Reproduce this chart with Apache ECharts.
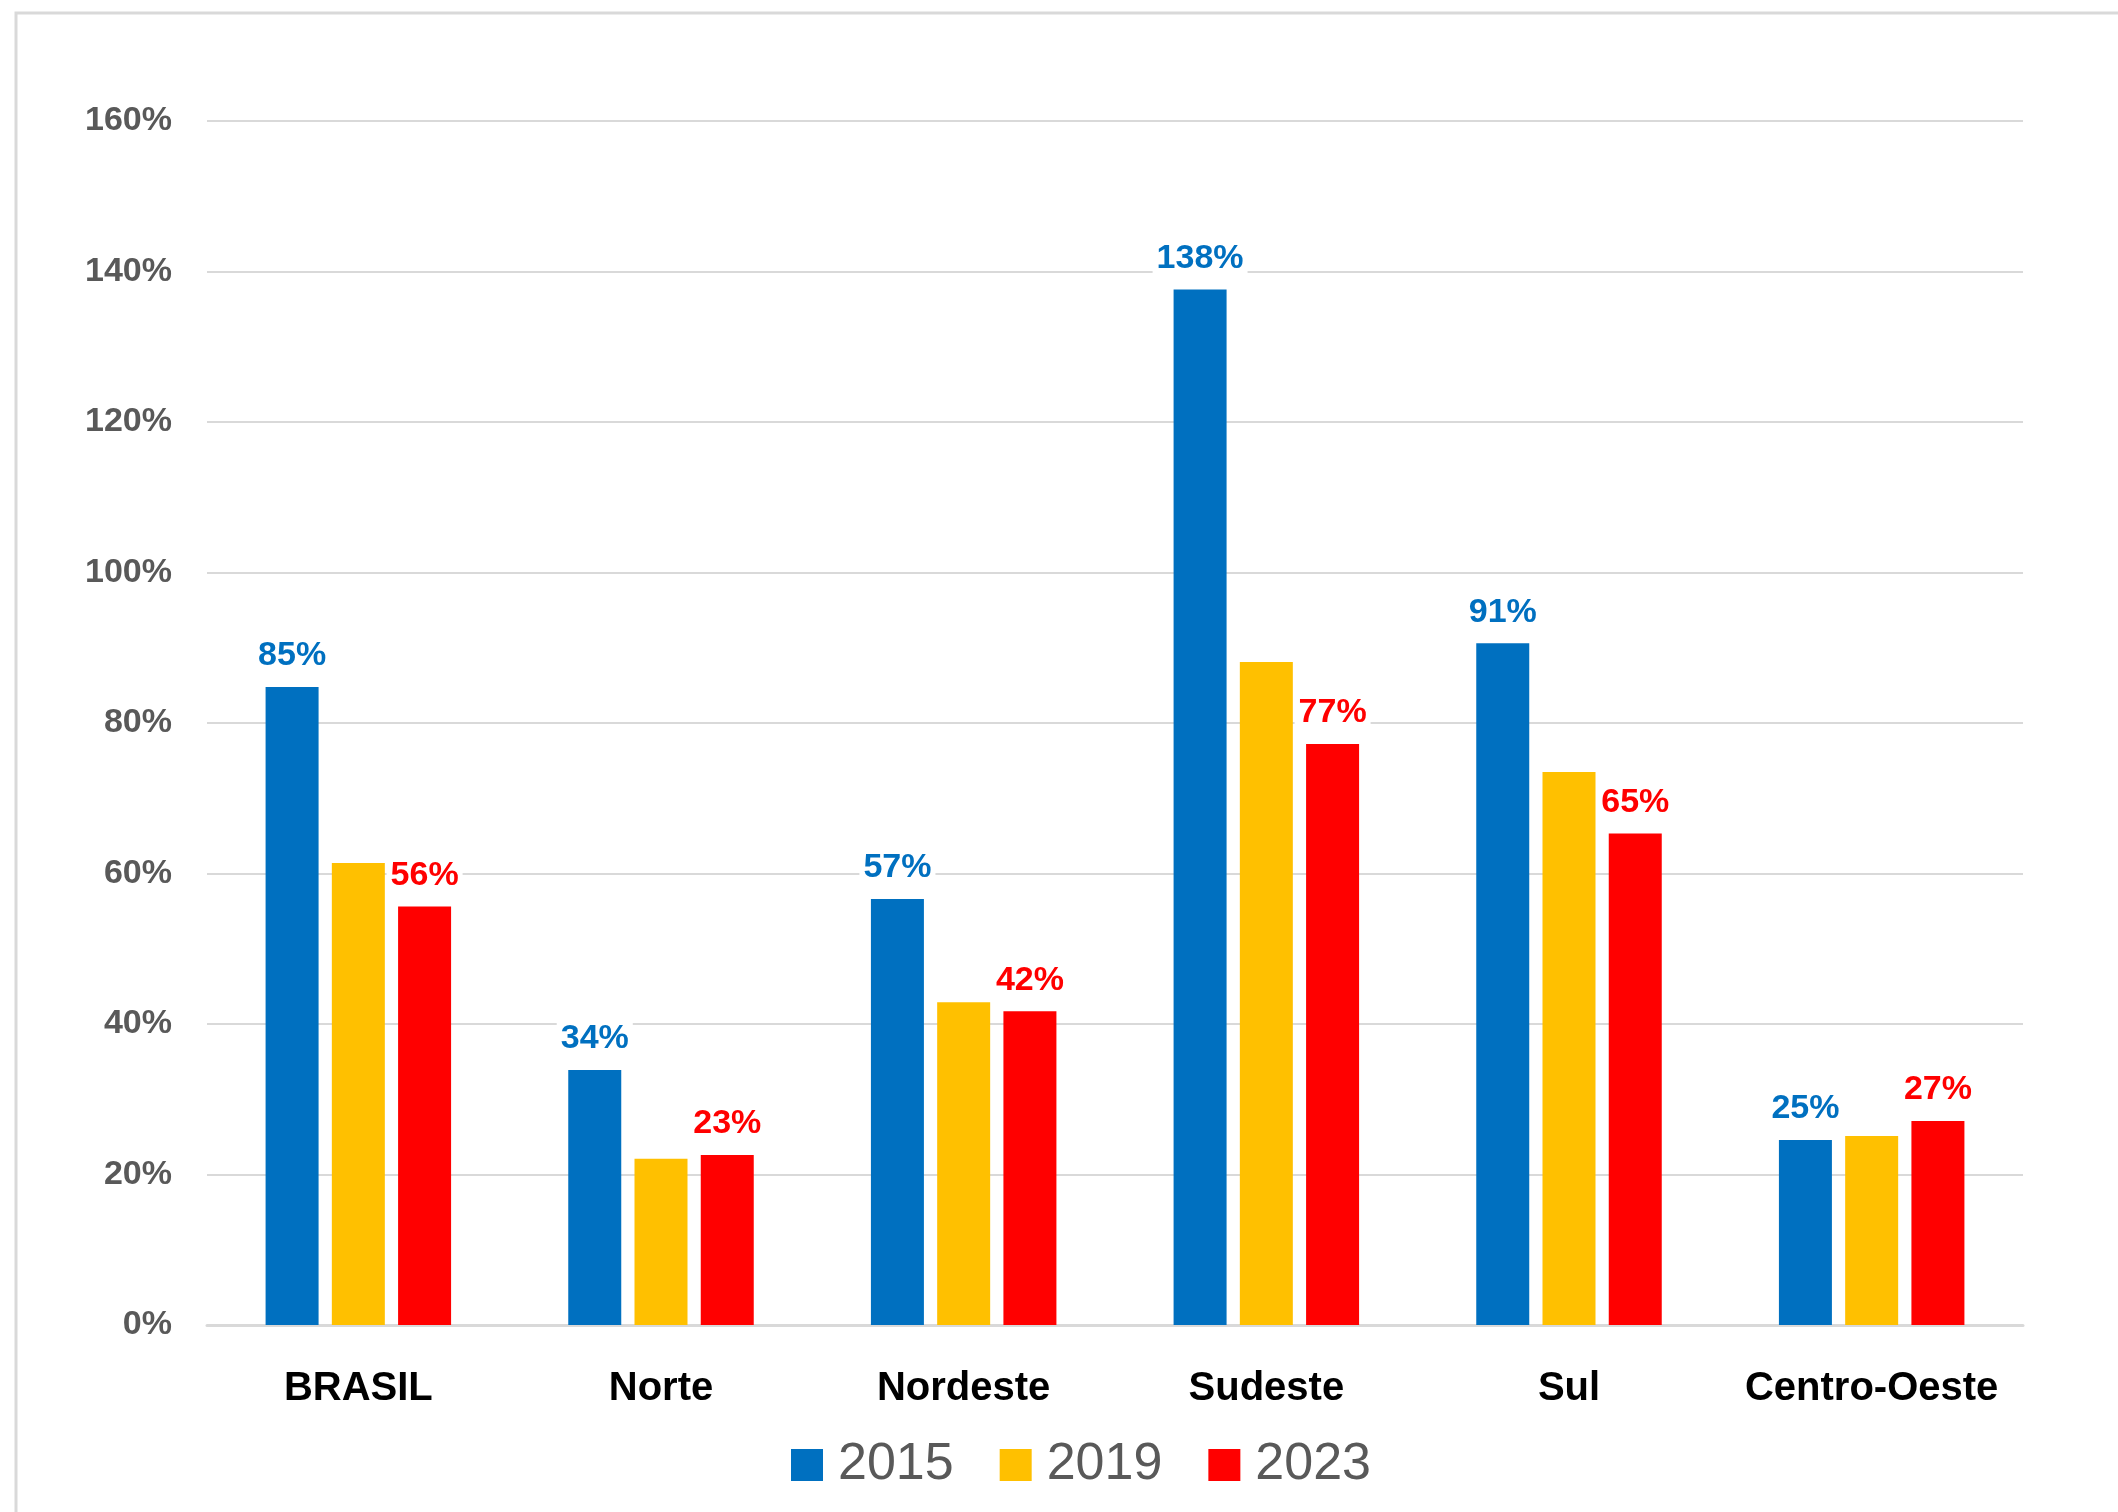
<!DOCTYPE html>
<html>
<head>
<meta charset="utf-8">
<script src="https://cdn.jsdelivr.net/npm/echarts@6/dist/echarts.min.js"></script>
<style>
html,body{margin:0;padding:0;background:#fff;}
#chart{width:2118px;height:1512px;}
</style>
</head>
<body>
<div id="chart"></div>
<script>
const categories = ['BRASIL', 'Norte', 'Nordeste', 'Sudeste', 'Sul', 'Centro-Oeste'];
const years = ['2015', '2019', '2023'];
const values2015 = [84.8, 33.9, 56.6, 137.6, 90.6, 24.6];
const values2019 = [61.4, 22.1, 42.9, 88.1, 73.5, 25.1];
const values2023 = [55.6, 22.6, 41.7, 77.2, 65.3, 27.1];
const yTicks = [0, 20, 40, 60, 80, 100, 120, 140, 160];

const colors = ['#0070C0', '#FFC000', '#FF0000'];
const FONT = 'Liberation Sans';

function labelCfg(color, show) {
  return {
    show: show,
    position: 'top',
    distance: 12,
    formatter: p => Math.round(p.value) + '%',
    color: color,
    fontFamily: FONT,
    fontWeight: 'bold',
    fontSize: 34,
    backgroundColor: '#ffffff',
    padding: [2, 4, 2, 4]
  };
}

const chart = echarts.init(document.getElementById('chart'));
chart.setOption({
  animation: false,
  backgroundColor: '#ffffff',
  graphic: [{
    type: 'rect',
    shape: { x: 16, y: 13, width: 2300, height: 1700 },
    style: { fill: 'none', stroke: '#d9d9d9', lineWidth: 3 },
    silent: true,
    z: -10
  }],
  grid: { left: 207, right: 95, top: 121, bottom: 187, containLabel: false },
  legend: {
    data: years,
    left: 786,
    top: 1434,
    itemWidth: 32,
    itemHeight: 32,
    itemGap: 46,
    icon: 'rect',
    textStyle: { fontFamily: FONT, fontSize: 52, color: '#595959', padding: [0, 0, 0, 10] }
  },
  xAxis: {
    type: 'category',
    data: categories,
    axisLine: { show: true, lineStyle: { color: '#d9d9d9', width: 3 } },
    axisTick: { show: false },
    axisLabel: { interval: 0, fontFamily: FONT, fontWeight: 'bold', fontSize: 40, color: '#000000', margin: 44 }
  },
  yAxis: {
    type: 'value',
    min: yTicks[0],
    max: yTicks[yTicks.length - 1],
    interval: 20,
    axisLine: { show: false },
    axisTick: { show: false },
    splitLine: { lineStyle: { color: '#d9d9d9', width: 2 } },
    axisLabel: { fontFamily: FONT, fontWeight: 'bold', fontSize: 34, color: '#595959', margin: 35, formatter: v => v + '%' }
  },
  series: [
    { name: years[0], type: 'bar', data: values2015, itemStyle: { color: colors[0] }, barWidth: 53, barGap: '25%', label: labelCfg(colors[0], true) },
    { name: years[1], type: 'bar', data: values2019, itemStyle: { color: colors[1] }, barWidth: 53, barGap: '25%', label: labelCfg(colors[1], false) },
    { name: years[2], type: 'bar', data: values2023, itemStyle: { color: colors[2] }, barWidth: 53, barGap: '25%', label: labelCfg(colors[2], true) }
  ]
});
</script>
</body>
</html>
